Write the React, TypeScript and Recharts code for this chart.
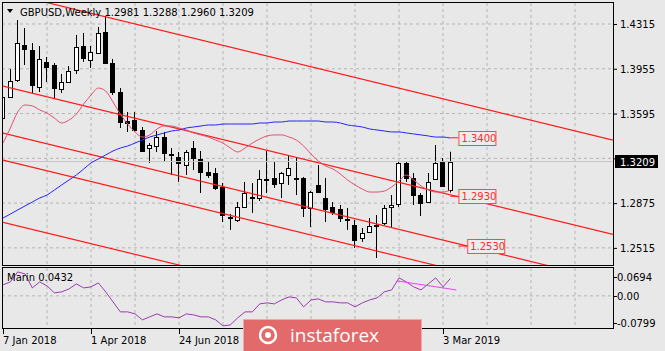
import React from 'react';
import {
  ComposedChart, LineChart, Bar, Line, XAxis, YAxis, CartesianGrid, ReferenceLine, ReferenceDot,
} from 'recharts';

const FONT = '"DejaVu Sans", Verdana, sans-serif';
const BG = '#e8e8e8';
const GRID = '#b4b4b4';

// weekly GBPUSD candles, first bar = week of 7 Jan 2018
const opens = [
  1.3559, 1.3728, 1.3865, 1.4146, 1.4106, 1.3808, 1.4010, 1.3985, 1.3792, 1.3849,
  1.3945, 1.4138, 1.4026, 1.4082, 1.4251, 1.4001, 1.3768, 1.3535, 1.3543, 1.3463,
  1.3318, 1.3334, 1.3406, 1.3270, 1.3246, 1.3181, 1.3318, 1.3230, 1.3125, 1.3117,
  1.3005, 1.2763, 1.2739, 1.2844, 1.2916, 1.2916, 1.3069, 1.3077, 1.3037, 1.3101,
  1.3077, 1.3077, 1.2836, 1.3021, 1.2916, 1.2844, 1.2828, 1.2747, 1.2699, 1.2595,
  1.2643, 1.2699, 1.2715, 1.2844, 1.2868, 1.3198, 1.3077, 1.2940, 1.2884, 1.3069,
  1.3206, 1.2981,
];
const highs = [
  1.3752, 1.3953, 1.4347, 1.4283, 1.4162, 1.4138, 1.4050, 1.4001, 1.3913, 1.3977,
  1.4227, 1.4243, 1.4138, 1.4291, 1.4379, 1.4034, 1.3800, 1.3607, 1.3607, 1.3487,
  1.3358, 1.3455, 1.3447, 1.3318, 1.3286, 1.3302, 1.3374, 1.3294, 1.3206, 1.3157,
  1.3037, 1.2788, 1.2884, 1.3045, 1.3037, 1.3141, 1.3294, 1.3206, 1.3125, 1.3254,
  1.3238, 1.3085, 1.2972, 1.3181, 1.3077, 1.2884, 1.2860, 1.2836, 1.2739, 1.2675,
  1.2755, 1.2779, 1.2860, 1.2940, 1.3206, 1.3206, 1.3117, 1.2956, 1.3117, 1.3342,
  1.3238, 1.3288,
];
const lows = [
  1.3479, 1.3720, 1.3849, 1.3985, 1.3760, 1.3768, 1.3849, 1.3720, 1.3760, 1.3841,
  1.3913, 1.4010, 1.3961, 1.4074, 1.3993, 1.3744, 1.3479, 1.3447, 1.3447, 1.3286,
  1.3198, 1.3286, 1.3206, 1.3101, 1.3045, 1.3101, 1.3141, 1.2956, 1.3077, 1.2980,
  1.2723, 1.2659, 1.2723, 1.2836, 1.2796, 1.2892, 1.2956, 1.2997, 1.2916, 1.3021,
  1.2940, 1.2763, 1.2683, 1.2956, 1.2723, 1.2779, 1.2723, 1.2659, 1.2514, 1.2563,
  1.2635, 1.2434, 1.2699, 1.2675, 1.2844, 1.3045, 1.2860, 1.2771, 1.2876, 1.3061,
  1.3005, 1.2960,
];
const closes = [
  1.3728, 1.3857, 1.4162, 1.4114, 1.3825, 1.4034, 1.3969, 1.3800, 1.3849, 1.3937,
  1.4130, 1.4042, 1.4090, 1.4243, 1.4001, 1.3768, 1.3527, 1.3520, 1.3463, 1.3294,
  1.3342, 1.3406, 1.3278, 1.3262, 1.3198, 1.3286, 1.3238, 1.3125, 1.3101, 1.2997,
  1.2779, 1.2755, 1.2844, 1.2956, 1.2924, 1.3069, 1.3061, 1.3029, 1.3117, 1.3157,
  1.3069, 1.2836, 1.2964, 1.2964, 1.2828, 1.2804, 1.2755, 1.2739, 1.2579, 1.2635,
  1.2691, 1.2691, 1.2836, 1.2860, 1.3198, 1.3077, 1.2940, 1.2876, 1.3045, 1.3198,
  1.3013, 1.3209,
];
// slow (blue) and fast (pink) moving averages
const maSlow = [
  1.2755, 1.2787, 1.2820, 1.2852, 1.2884, 1.2916, 1.2940, 1.2980, 1.3021, 1.3061,
  1.3101, 1.3149, 1.3198, 1.3230, 1.3262, 1.3294, 1.3318, 1.3334, 1.3358, 1.3382,
  1.3406, 1.3423, 1.3439, 1.3455, 1.3463, 1.3479, 1.3487, 1.3495, 1.3503, 1.3503,
  1.3511, 1.3511, 1.3511, 1.3511, 1.3511, 1.3519, 1.3519, 1.3527, 1.3527, 1.3535,
  1.3535, 1.3535, 1.3535, 1.3535, 1.3527, 1.3527, 1.3519, 1.3503, 1.3495, 1.3487,
  1.3471, 1.3463, 1.3455, 1.3447, 1.3447, 1.3439, 1.3431, 1.3423, 1.3415, 1.3406,
  1.3406, 1.3398,
];
const maFast = [
  1.3358, 1.3479, 1.3607, 1.3664, 1.3656, 1.3624, 1.3599, 1.3559, 1.3519, 1.3543,
  1.3591, 1.3672, 1.3744, 1.3800, 1.3776, 1.3688, 1.3591, 1.3511, 1.3447, 1.3406,
  1.3423, 1.3471, 1.3495, 1.3495, 1.3479, 1.3463, 1.3439, 1.3423, 1.3406, 1.3382,
  1.3358, 1.3318, 1.3286, 1.3318, 1.3358, 1.3390, 1.3415, 1.3423, 1.3423, 1.3406,
  1.3382, 1.3334, 1.3270, 1.3214, 1.3173, 1.3149, 1.3109, 1.3061, 1.3021, 1.2988,
  1.2964, 1.2964, 1.2972, 1.3005, 1.3053, 1.3101, 1.3061, 1.3013, 1.2980, 1.2964,
  1.2964, 1.2980,
];
const marin = [
  0.0274, 0.0348, 0.0597, 0.0547, 0.0199, 0.0348, 0.0249, 0.0075, 0.0100, 0.0174,
  0.0299, 0.0199, 0.0224, 0.0323, 0.0100, -0.0149, -0.0398, -0.0398, -0.0448, -0.0597,
  -0.0522, -0.0448, -0.0522, -0.0522, -0.0547, -0.0448, -0.0473, -0.0522, -0.0522, -0.0597,
  -0.0746, -0.0722, -0.0547, -0.0398, -0.0398, -0.0199, -0.0174, -0.0199, -0.0100, -0.0025,
  -0.0050, -0.0274, -0.0100, -0.0075, -0.0149, -0.0149, -0.0174, -0.0174, -0.0274, -0.0174,
  -0.0100, -0.0050, 0.0100, 0.0149, 0.0448, 0.0348, 0.0224, 0.0149, 0.0299, 0.0448,
  0.0224, 0.0432,
];

const priceTicks = [1.4315, 1.3955, 1.3595, 1.3235, 1.2875, 1.2515];
const marinTicks = [0.0694, 0, -0.0799];
const marinTickLabels = ['0.0694', '0.00', '-0.0799'];
const dateTickWeeks = [0, 12, 24, 60];
const dateTickLabels = ['7 Jan 2018', '1 Apr 2018', '24 Jun 2018', '3 Mar 2019'];
const gridWeeks = [6, 12, 18, 24, 30, 36, 42, 48, 54, 60, 66, 72, 78];

// channel lines: [week, price] at both ends
const channels = [
  [[-0.14, 1.4575], [83.18, 1.3382]],
  [[-0.14, 1.3817], [83.18, 1.2623]],
  [[-0.14, 1.3439], [83.18, 1.2245]],
  [[-0.14, 1.3222], [83.18, 1.2028]],
  [[-0.14, 1.2723], [83.18, 1.1529]],
];
const priceTags = [
  { w: 62.1, price: 1.34, text: '1.3400', from: 61.0 },
  { w: 62.1, price: 1.293, text: '1.2930', from: 61.0 },
  { w: 63.3, price: 1.253, text: '1.2530', from: 62.1 },
];
const marinTrend = [[53.7, 0.0373], [61.8, 0.0149]];

const X_DOMAIN = [-0.14, 83.18];
const Y_DOMAIN = [1.23774, 1.44838];
const M_DOMAIN = [-0.0799, 0.0694];
const LAST = 1.3209;

const rows = closes.map((c, i) => ({
  w: i, open: opens[i], high: highs[i], low: lows[i], close: c,
  slow: maSlow[i], fast: maFast[i], marin: marin[i],
}));

const Candle = (props: any) => {
  const { x, y, width, height, payload } = props;
  if (!payload || height == null) return null;
  const { open, close, high, low } = payload;
  const cx = Math.floor(x + width / 2);
  const toY = (v: number) => y + ((high - v) / (high - low)) * height;
  const a = toY(open);
  const b = toY(close);
  const top = Math.round(Math.min(a, b));
  const h = Math.max(Math.round(Math.max(a, b)) - top, 0);
  const bull = close >= open;
  return (
    <g>
      <line x1={cx + 0.5} x2={cx + 0.5} y1={y} y2={y + height} stroke="#000" />
      <rect x={cx - 1.5} y={top + 0.5} width={4} height={h} fill={bull ? '#fff' : '#000'} stroke="#000" />
    </g>
  );
};

// the 1.3235 level sits under the current-price box, so only its tick mark shows
const PriceTick = (props: any) => {
  const { y, payload } = props;
  const hidden = Math.abs(payload.value - LAST) < 0.004;
  return (
    <g>
      <line x1={614} x2={617} y1={y + 0.5} y2={y + 0.5} stroke="#000" />
      {!hidden && (
        <text x={620} y={y + 4} fontSize={10} fontFamily={FONT} fill="#000">{payload.value.toFixed(4)}</text>
      )}
    </g>
  );
};

const MarinTick = (props: any) => {
  const { y, payload, index } = props;
  const shift = index === 0 ? 9 : index === 2 ? -5 : 0;
  const ty = Math.round(y + shift);
  return (
    <g>
      <line x1={614} x2={617} y1={ty + 0.5} y2={ty + 0.5} stroke="#000" />
      <text x={617} y={ty + 4} fontSize={10} fontFamily={FONT} fill="#000">{marinTickLabels[marinTicks.indexOf(payload.value)]}</text>
    </g>
  );
};

const DateTick = (props: any) => {
  const { x, payload } = props;
  const label = dateTickLabels[dateTickWeeks.indexOf(payload.value)];
  const tx = Math.round(x);
  return (
    <g>
      <line x1={tx + 0.5} x2={tx + 0.5} y1={329} y2={334} stroke="#000" />
      <text x={tx} y={344} fontSize={10} fontFamily={FONT} fill="#000">{label}</text>
    </g>
  );
};

const Tag = (props: any) => {
  const { cx, cy, text } = props;
  return (
    <g>
      <rect x={cx + 0.5} y={Math.round(cy) - 6.5} width={37} height={14} fill="#ececec" stroke="#ff4a4a" />
      <text x={cx + 3} y={Math.round(cy) + 4} fontSize={10} fontFamily={FONT} fill="#ff2a2a">{text}</text>
    </g>
  );
};

const LastPrice = (props: any) => {
  const y = Math.round(props.viewBox.y);
  return (
    <g>
      <rect x={615} y={y - 7} width={43} height={13} fill="#000" />
      <text x={620} y={y + 4} fontSize={10} fontFamily={FONT} fill="#fff">{LAST.toFixed(4)}</text>
    </g>
  );
};

const App = () => {
  return (
    <div style={{ position: 'absolute', left: 0, top: 0, width: 665, height: 351, background: BG, overflow: 'hidden' }}>
      <div style={{ position: 'absolute', left: 0, top: 0 }}>
        <ComposedChart width={665} height={351} data={rows} margin={{ top: 3, right: 0, bottom: 86, left: 2 }}>
          <CartesianGrid stroke={GRID} strokeDasharray="3 3" horizontalValues={priceTicks} verticalValues={gridWeeks} />
          <XAxis dataKey="w" type="number" domain={X_DOMAIN} allowDataOverflow hide />
          <YAxis orientation="right" width={52} domain={Y_DOMAIN} allowDataOverflow ticks={priceTicks}
            interval={0} tick={<PriceTick />} axisLine={false} tickLine={false} />
          <ReferenceLine y={LAST} stroke="#c4c4c4" label={<LastPrice />} />
          {channels.map((seg, i) => (
            <ReferenceLine key={i} ifOverflow="hidden" stroke="#ff1a1a" strokeWidth={1.2}
              segment={[{ x: seg[0][0], y: seg[0][1] }, { x: seg[1][0], y: seg[1][1] }]} />
          ))}
          <Line dataKey="slow" stroke="#2424ff" dot={false} type="monotone" strokeWidth={1} isAnimationActive={false} />
          <Line dataKey="fast" stroke="#e4506e" dot={false} type="monotone" strokeWidth={1} isAnimationActive={false} />
          <Bar dataKey={(d: any) => [d.low, d.high]} barSize={5} shape={<Candle />} isAnimationActive={false} />
          {priceTags.map((t) => (
            <ReferenceLine key={'l' + t.text} ifOverflow="hidden" stroke="#ff1a1a"
              segment={[{ x: t.from, y: t.price }, { x: t.w, y: t.price }]} />
          ))}
          {priceTags.map((t) => (
            <ReferenceDot key={t.text} x={t.w} y={t.price} r={0} shape={<Tag text={t.text} />} />
          ))}
        </ComposedChart>
      </div>
      <div style={{ position: 'absolute', left: 0, top: 0 }}>
        <LineChart width={665} height={351} data={rows} margin={{ top: 268, right: 0, bottom: 0, left: 2 }}>
          <CartesianGrid stroke={GRID} strokeDasharray="3 3" horizontalValues={[0]} verticalValues={gridWeeks} />
          <XAxis dataKey="w" type="number" domain={X_DOMAIN} allowDataOverflow height={23} ticks={dateTickWeeks}
            interval={0} tick={<DateTick />} axisLine={false} tickLine={false} />
          <YAxis orientation="right" width={52} domain={M_DOMAIN} allowDataOverflow ticks={marinTicks}
            interval={0} tick={<MarinTick />} axisLine={false} tickLine={false} />
          <Line dataKey="marin" stroke="#9b3cb0" dot={false} type="linear" strokeWidth={1} isAnimationActive={false} />
          <ReferenceLine ifOverflow="hidden" stroke="#f040f0"
            segment={[{ x: marinTrend[0][0], y: marinTrend[0][1] }, { x: marinTrend[1][0], y: marinTrend[1][1] }]} />
        </LineChart>
      </div>
      <svg width={665} height={351} style={{ position: 'absolute', left: 0, top: 0, pointerEvents: 'none' }}>
        <rect x={2.5} y={2.5} width={611} height={263} fill="none" stroke="#000" />
        <rect x={2.5} y={267.5} width={611} height={61} fill="none" stroke="#000" />
        <path d="M7 9 L13 9 L10 13 Z" fill="#000" />
        <text x={20} y={16} fontSize={10} fontFamily={FONT} fill="#000">
          {'GBPUSD,Weekly  1.2981 1.3288 1.2960 1.3209'}
        </text>
        <text x={7} y={281} fontSize={10} fontFamily={FONT} fill="#000">Marin 0.0432</text>
        <rect x={243.5} y={319.5} width={178} height={33} fill="#e26a6a" stroke="#f0a8a8" />
        <circle cx={268} cy={335} r={8} fill="none" stroke="#fff" strokeWidth={2.5} />
        <circle cx={268} cy={335} r={3} fill="#fff" />
        <text x={290} y={342} fontSize={19} fontFamily='"Open Sans", sans-serif' fill="#fff">instaforex</text>
      </svg>
    </div>
  );
};

export default App;
